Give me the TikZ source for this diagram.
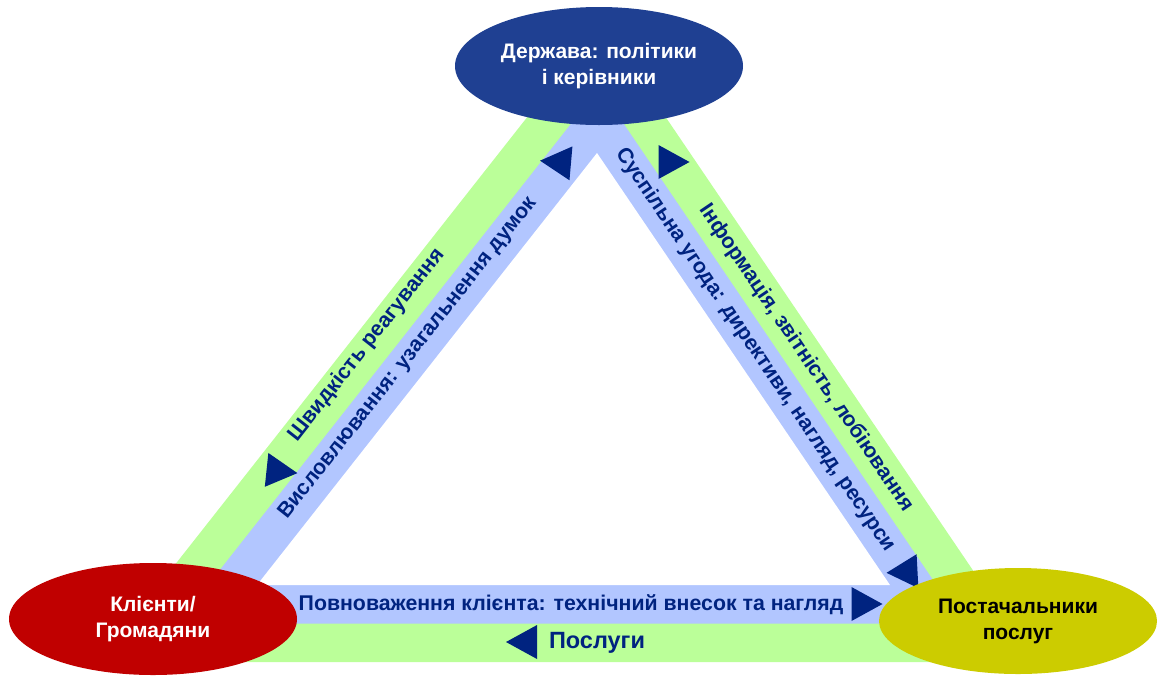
\documentclass[tikz,border=0pt]{standalone}
\usepackage{fontspec}
\setmainfont{Liberation Sans}
\usetikzlibrary{shapes.geometric}

\definecolor{govblue}{RGB}{31,64,146}
\definecolor{clientred}{RGB}{192,0,0}
\definecolor{provyellow}{RGB}{204,204,0}
\definecolor{navy}{RGB}{0,35,128}
\definecolor{bandgreen}{RGB}{187,255,153}
\definecolor{bandblue}{RGB}{178,198,255}

\tikzset{
  actor/.style={ellipse, inner sep=0pt, align=center, font=\fontsize{21}{26}\selectfont\bfseries},
  bandtext/.style={text=navy, inner sep=0pt, font=\fontsize{21.3}{25}\selectfont\bfseries},
}
\newcommand{\pointer}[3]{\fill[navy, shift={(#1,#2)}, rotate=#3] (15.5,0) -- (-15.5,-17) -- (-15.5,17) -- cycle;}

\begin{document}
\begin{tikzpicture}[x=1pt,y=-1pt]
\useasboundingbox (0,0) rectangle (1158,675);

% corners of the bands
\coordinate (topO) at (601.6,22.6);
\coordinate (leftO) at (98.4,662);
\coordinate (rightO) at (1035.1,662);
\coordinate (topM) at (599.3,87.8);
\coordinate (leftM) at (177.7,623.5);
\coordinate (rightM) at (962.5,623.5);
\coordinate (topI) at (597,153);
\coordinate (leftI) at (257,585);
\coordinate (rightI) at (890,585);

\fill[bandgreen] (topO) -- (leftO) -- (rightO) -- cycle;
\fill[bandblue] (topM) -- (leftM) -- (rightM) -- cycle;
\fill[white] (topI) -- (leftI) -- (rightI) -- cycle;

% labels on the bands
\node[bandtext, rotate=51.8] (speed) at (367,345) {Швидкість реагування};
\node[bandtext, rotate=51.8] (voice) at (408,358) {Висловлювання: узагальнення думок};
\node[bandtext, rotate=-55.9] (compact) at (755,350) {Суспільна угода: директиви, нагляд, ресурси};
\node[bandtext, rotate=-55.9] (info) at (806,358) {Інформація, звітність, лобіювання};
\node[bandtext] (power) at (571,605) {Повноваження клієнта: технічний внесок та нагляд};
\node[bandtext, font=\fontsize{23.5}{27}\selectfont\bfseries] (serv) at (597,643) {Послуги};

% arrow heads
\pointer{555.5}{162}{175}
\pointer{674}{162}{0}
\pointer{282}{471.5}{-6}
\pointer{902}{572}{183}
\pointer{867}{604}{0}
\pointer{521.5}{642}{180}

% the three parties
\node[actor, fill=govblue, text=white, minimum width=288pt, minimum height=118pt] (state) at (599,66) {Держава: політики\\і керівники};
\node[actor, fill=clientred, text=white, minimum width=288pt, minimum height=112pt] (client) at (153,619) {Клієнти/\\Громадяни};
\node[actor, fill=provyellow, text=black, minimum width=278pt, minimum height=106pt] (prov) at (1018,621) {Постачальники\\послуг};
\end{tikzpicture}
\end{document}
